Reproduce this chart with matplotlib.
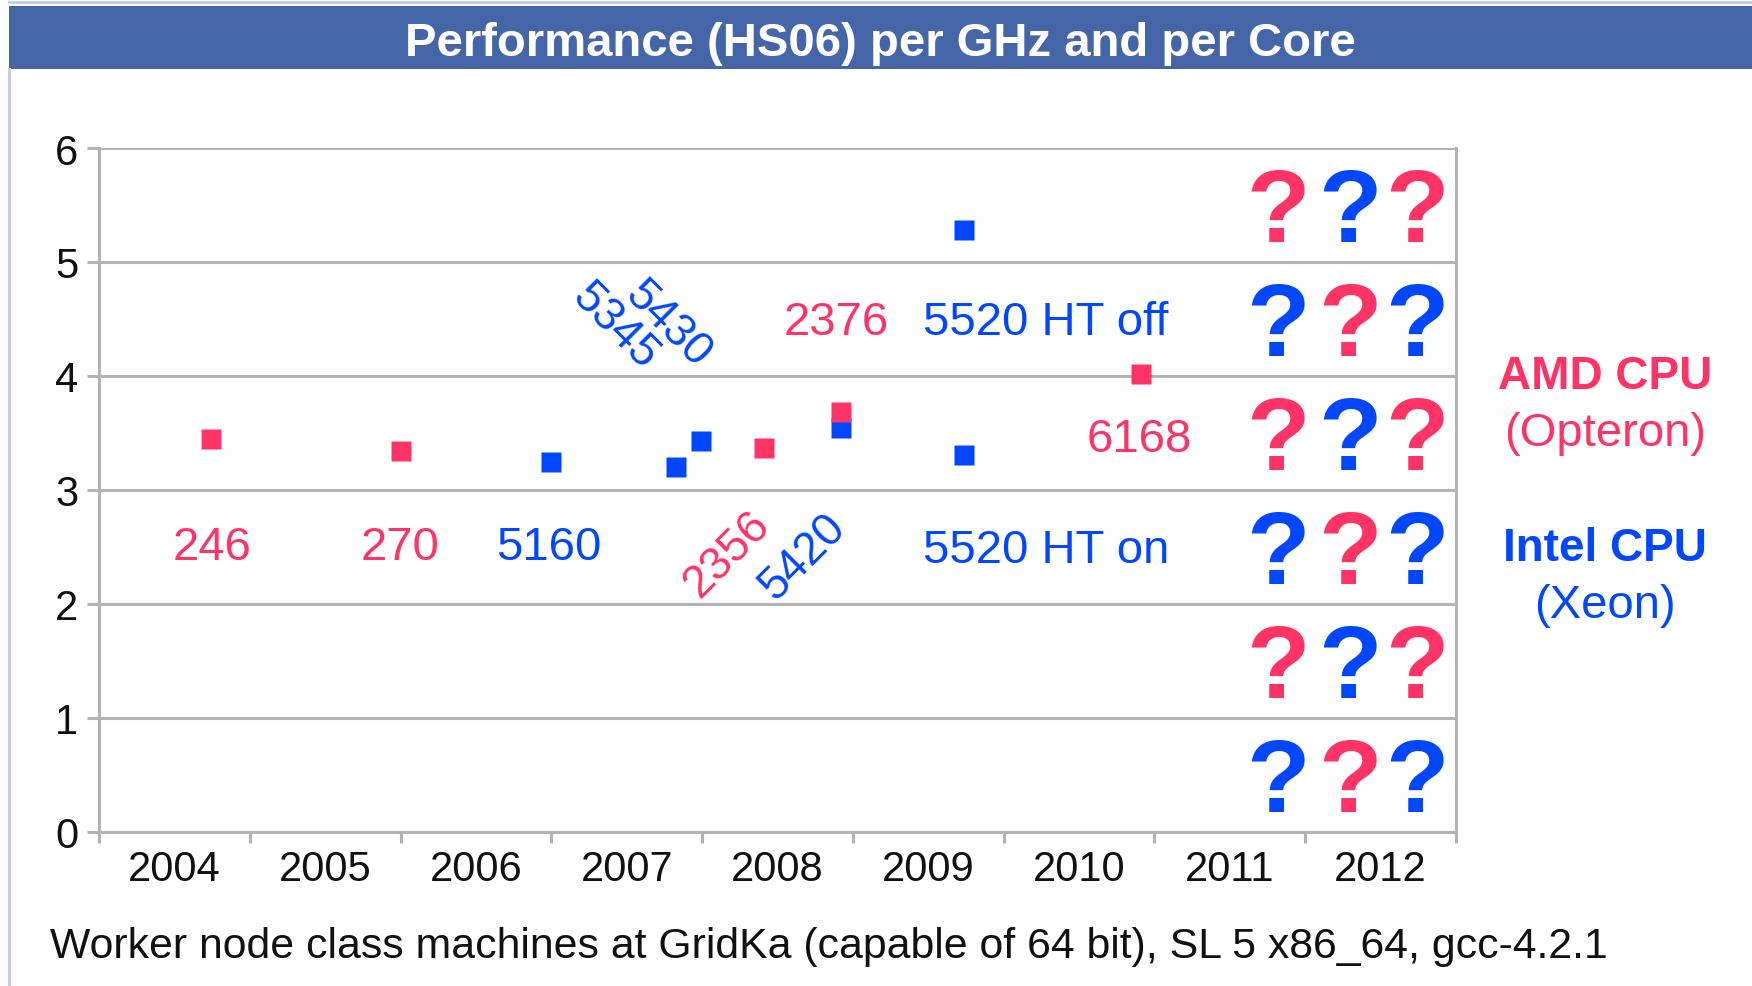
import matplotlib
matplotlib.use('Agg')
import matplotlib.pyplot as plt
from matplotlib.patches import Rectangle
from matplotlib.lines import Line2D

plt.rcParams['font.family'] = ['Liberation Sans', 'DejaVu Sans']

# data (x in fractional years, y = HS06 per GHz and core)
years = [2004, 2005, 2006, 2007, 2008, 2009, 2010, 2011, 2012]
amd_x = [2004.74, 2006.0, 2008.41, 2008.92, 2010.91]
amd_y = [3.45, 3.34, 3.37, 3.68, 4.02]
intel_x = [2007.0, 2007.83, 2007.99, 2008.92, 2009.74, 2009.74]
intel_y = [3.25, 3.20, 3.43, 3.54, 5.28, 3.31]

# text labels: text, vendor, x, y, rotation
labels = [
    ('246', 'amd', 2004.75, 2.50, 0),
    ('270', 'amd', 2006.0, 2.50, 0),
    ('5160', 'intel', 2006.98, 2.50, 0),
    ('5345', 'intel', 2007.42, 4.44, -45),
    ('5430', 'intel', 2007.77, 4.46, -45),
    ('2376', 'amd', 2008.89, 4.47, 0),
    ('5520 HT off', 'intel', 2010.28, 4.47, 0),
    ('6168', 'amd', 2010.90, 3.45, 0),
    ('2356', 'amd', 2008.17, 2.44, 45),
    ('5420', 'intel', 2008.67, 2.42, 45),
    ('5520 HT on', 'intel', 2010.28, 2.47, 0),
]

# the "???" block for the future
q_cols = [2011.82, 2012.30, 2012.74]
q_rows = [5, 4, 3, 2, 1, 0]

RED = '#ff3366'
BLUE = '#0047ff'
GRID = '#b3b3b3'
colors = {'amd': RED, 'intel': BLUE}

fig = plt.figure(figsize=(17.52, 9.87), dpi=100)
W, H = 1752, 987

# title bar and slide frame
fig.patches.append(Rectangle((9 / W, 1 - 70 / H), 1, 63 / H, transform=fig.transFigure,
                             facecolor='#4565a9', edgecolor='none', zorder=0))
fig.lines.append(Line2D([9 / W, 9 / W], [0, 1 - 70 / H], transform=fig.transFigure,
                        color='#c3cee6', lw=2.2))
fig.lines.append(Line2D([9 / W, 1], [1 - 3 / H, 1 - 3 / H], transform=fig.transFigure,
                        color='#c3cee6', lw=2.2))
fig.text(880 / W, 1 - 44 / H, 'Performance (HS06) per GHz and per Core', color='white',
         fontsize=34, fontweight='bold', ha='center', va='center')

ax = fig.add_axes([99 / W, 1 - 833 / H, (1456 - 99) / W, (833 - 149) / H])
ax.set_xlim(2004, 2013)
ax.set_ylim(0, 6)

ax.plot(intel_x, intel_y, 's', color=BLUE, ms=14.5, mec='none', zorder=3, clip_on=False)
ax.plot(amd_x, amd_y, 's', color=RED, ms=14.5, mec='none', zorder=4, clip_on=False)

for txt, vendor, x, y, rot in labels:
    fs = 33 if rot else 34
    ax.text(x, y, txt, color=colors[vendor], fontsize=fs, rotation=rot,
            ha='center', va='center', rotation_mode='anchor')

for i, row in enumerate(q_rows):
    for j, x in enumerate(q_cols):
        c = RED if (i + j) % 2 == 0 else BLUE
        ax.text(x, row + 0.18, '?', color=c, fontsize=75, fontweight='bold',
                ha='center', va='baseline')

# axes styling
ax.set_yticks(range(0, 7))
ax.set_xticks(range(2004, 2014))
ax.set_xticklabels([])
ax.set_xticks([y + 0.5 for y in years], minor=True)
ax.set_xticklabels([str(y) for y in years], minor=True)
ax.tick_params(axis='x', which='major', length=8, width=2.2, color=GRID)
ax.tick_params(axis='x', which='minor', length=0, pad=12, labelsize=30, labelcolor='#111111')
ax.tick_params(axis='y', length=9, width=2.2, color=GRID, pad=6, labelsize=30,
               labelcolor='#111111')
ax.grid(axis='y', color=GRID, lw=2.2)
ax.set_axisbelow(True)
for s in ['left', 'right', 'bottom']:
    ax.spines[s].set_color(GRID)
    ax.spines[s].set_linewidth(2.2)
ax.spines['top'].set_visible(False)

# vendor key on the right
fig.text(1605 / W, 1 - 377 / H, 'AMD CPU', color=RED, fontsize=33, fontweight='bold',
         ha='center', va='center')
fig.text(1605 / W, 1 - 434 / H, '(Opteron)', color=RED, fontsize=34, ha='center', va='center')
fig.text(1605 / W, 1 - 549 / H, 'Intel CPU', color=BLUE, fontsize=33, fontweight='bold',
         ha='center', va='center')
fig.text(1605 / W, 1 - 606 / H, '(Xeon)', color=BLUE, fontsize=34, ha='center', va='center')

fig.text(50 / W, 1 - 947 / H,
         'Worker node class machines at GridKa (capable of 64 bit), SL 5 x86_64, gcc-4.2.1',
         color='#111111', fontsize=30.8, ha='left', va='center')

fig.savefig('out.png', dpi=100)
